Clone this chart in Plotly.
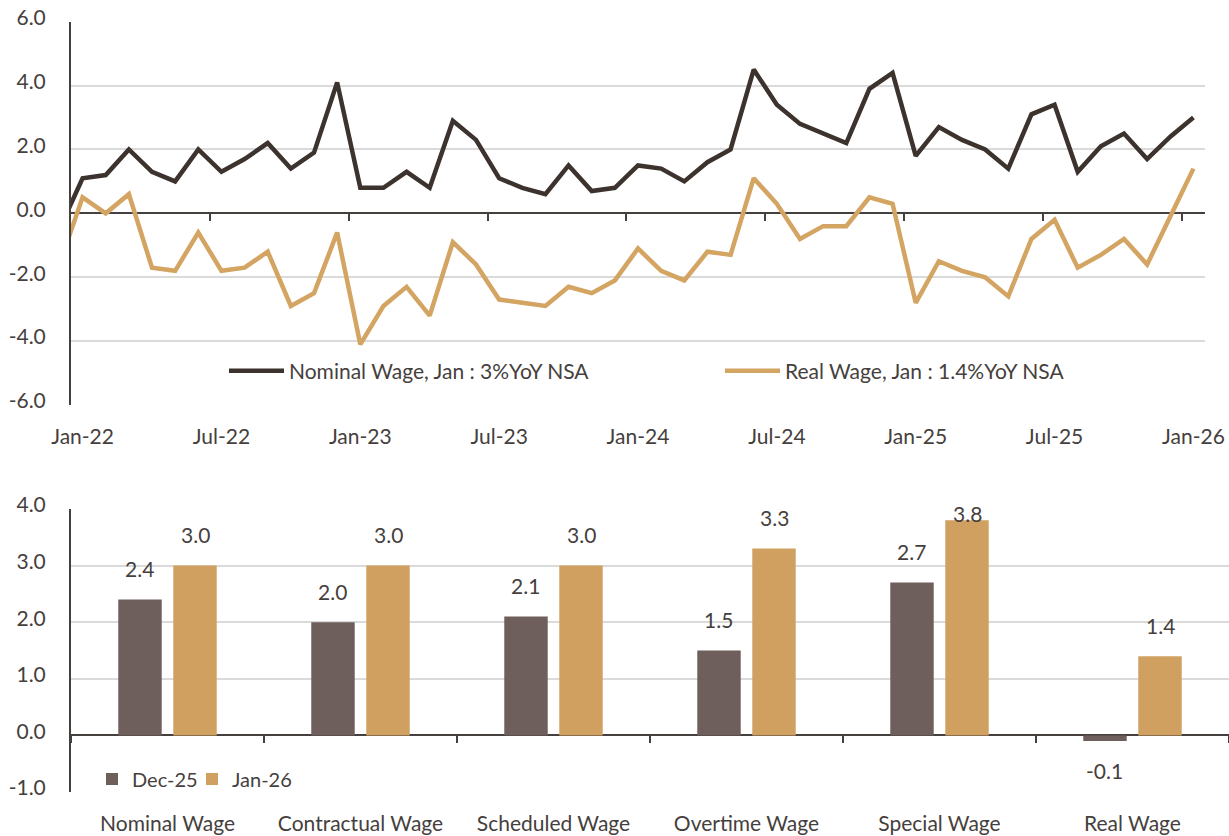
import plotly.graph_objects as go

# ---------------- data ----------------
# monthly index: -1 = Dec-21 (partially visible), 0 = Jan-22 ... 48 = Jan-26
month_index = list(range(-1, 49))
nominal_wage = [-0.5, 1.1, 1.2, 2.0, 1.3, 1.0, 2.0, 1.3, 1.7, 2.2, 1.4, 1.9, 4.1,
                0.8, 0.8, 1.3, 0.8, 2.9, 2.3, 1.1, 0.8, 0.6, 1.5, 0.7, 0.8,
                1.5, 1.4, 1.0, 1.6, 2.0, 4.5, 3.4, 2.8, 2.5, 2.2, 3.9, 4.4,
                1.8, 2.7, 2.3, 2.0, 1.4, 3.1, 3.4, 1.3, 2.1, 2.5, 1.7, 2.4, 3.0]
real_wage = [-1.6, 0.5, 0.0, 0.6, -1.7, -1.8, -0.6, -1.8, -1.7, -1.2, -2.9, -2.5, -0.6,
             -4.1, -2.9, -2.3, -3.2, -0.9, -1.6, -2.7, -2.8, -2.9, -2.3, -2.5, -2.1,
             -1.1, -1.8, -2.1, -1.2, -1.3, 1.1, 0.3, -0.8, -0.4, -0.4, 0.5, 0.3,
             -2.8, -1.5, -1.8, -2.0, -2.6, -0.8, -0.2, -1.7, -1.3, -0.8, -1.6, -0.1, 1.4]
line_names = ["Nominal Wage, Jan : 3%YoY NSA", "Real Wage, Jan : 1.4%YoY NSA"]

x_tick_vals = [0, 6, 12, 18, 24, 30, 36, 42, 48]
x_tick_labels = ["Jan-22", "Jul-22", "Jan-23", "Jul-23", "Jan-24", "Jul-24",
                 "Jan-25", "Jul-25", "Jan-26"]
top_y_vals = [-6, -4, -2, 0, 2, 4, 6]
top_y_labels = ["-6.0", "-4.0", "-2.0", "0.0", "2.0", "4.0", "6.0"]

categories = ["Nominal Wage", "Contractual Wage", "Scheduled Wage",
              "Overtime Wage", "Special Wage", "Real Wage"]
dec25 = [2.4, 2.0, 2.1, 1.5, 2.7, -0.1]
jan26 = [3.0, 3.0, 3.0, 3.3, 3.8, 1.4]
bar_names = ["Dec-25", "Jan-26"]
bot_y_vals = [-1, 0, 1, 2, 3, 4]
bot_y_labels = ["-1.0", "0.0", "1.0", "2.0", "3.0", "4.0"]

# ---------------- style ----------------
W, H = 1229, 836
FONT = "Lato"
FS = 21
TXT = "#45403d"
AXIS = "#45403d"
GRID = "#dadada"
C_NOM = "#3d332e"
C_REAL = "#d3a462"
C_DEC = "#6e5f5c"
C_JAN = "#d0a060"

top_px = dict(l=71, r=1205, t=21.7, b=405)
bot_px = dict(l=71, r=1229, t=509, b=792)
top_dx = [top_px["l"] / W, top_px["r"] / W]
top_dy = [1 - top_px["b"] / H, 1 - top_px["t"] / H]
bot_dx = [bot_px["l"] / W, bot_px["r"] / W]
bot_dy = [1 - bot_px["b"] / H, 1 - bot_px["t"] / H]
top_yr = [-6, 6]
bot_yr = [-1, 4]
top_zero = top_dy[0] + (0 - top_yr[0]) / (top_yr[1] - top_yr[0]) * (top_dy[1] - top_dy[0])
bot_zero = bot_dy[0] + (0 - bot_yr[0]) / (bot_yr[1] - bot_yr[0]) * (bot_dy[1] - bot_dy[0])

BARGAP = 0.43
BARGROUPGAP = 0.21

fig = go.Figure()

# ---------------- top: lines ----------------
fig.add_trace(go.Scatter(x=month_index, y=nominal_wage, mode="lines", name=line_names[0],
                         line=dict(color=C_NOM, width=4.5), xaxis="x", yaxis="y",
                         legend="legend"))
fig.add_trace(go.Scatter(x=month_index, y=real_wage, mode="lines", name=line_names[1],
                         line=dict(color=C_REAL, width=4.5), xaxis="x", yaxis="y",
                         legend="legend"))
# helper trace so the tick axis on the zero line is drawn
fig.add_trace(go.Scatter(x=[None], y=[None], xaxis="x3", yaxis="y", showlegend=False,
                         hoverinfo="skip"))

# ---------------- bottom: bars ----------------
fig.add_trace(go.Bar(x=categories, y=dec25, name=bar_names[0], marker_color=C_DEC,
                     marker_line_width=0, xaxis="x2", yaxis="y2", legend="legend2",
                     legendwidth=55))
fig.add_trace(go.Bar(x=categories, y=jan26, name=bar_names[1], marker_color=C_JAN,
                     marker_line_width=0, xaxis="x2", yaxis="y2", legend="legend2",
                     legendwidth=90))
fig.add_trace(go.Scatter(x=categories, y=[None] * len(categories), mode="markers",
                         xaxis="x4", yaxis="y2", showlegend=False, hoverinfo="skip"))

# bar value labels
cat_w = (bot_px["r"] - bot_px["l"]) / len(categories)
slot = cat_w * (1 - BARGAP) / 2
px_per_unit = (bot_px["b"] - bot_px["t"]) / (bot_yr[1] - bot_yr[0])
annotations = []
for series, sign in ((dec25, -1), (jan26, 1)):
    for cat, v in zip(categories, series):
        if v >= 0:
            room = (bot_yr[1] - v) * px_per_unit - 4
            ys = min(31, room)
        else:
            ys = -29
        annotations.append(dict(x=cat, y=v, xref="x2", yref="y2", text=f"{v:.1f}",
                                showarrow=False, xshift=sign * slot / 2, yshift=ys,
                                font=dict(family=FONT, size=FS, color=TXT),
                                xanchor="center", yanchor="middle"))

tick_font = dict(family=FONT, size=FS, color=TXT)

fig.update_layout(
    width=W, height=H,
    margin=dict(l=0, r=0, t=0, b=0, autoexpand=False),
    paper_bgcolor="white", plot_bgcolor="white",
    font=dict(family=FONT, size=FS, color=TXT),
    hovermode=False,
    barmode="group", bargap=BARGAP, bargroupgap=BARGROUPGAP,
    xaxis=dict(domain=top_dx, anchor="y", range=[-0.5, 48.5], tickmode="array",
               tickvals=x_tick_vals, ticktext=x_tick_labels, ticks="outside",
               ticklen=13, tickcolor="rgba(0,0,0,0)", showgrid=False, zeroline=False,
               showline=False, tickfont=tick_font),
    xaxis3=dict(overlaying="x", anchor="free", position=top_zero, range=[-0.5, 48.5],
                tickmode="array", tickvals=[v - 0.5 for v in x_tick_vals[1:]],
                showticklabels=False, ticks="outside", ticklen=7, tickwidth=2,
                tickcolor=AXIS, showgrid=False, zeroline=False, showline=False),
    yaxis=dict(domain=top_dy, anchor="x", range=top_yr, tickmode="array",
               tickvals=top_y_vals, ticktext=top_y_labels, ticks="outside",
               ticklen=19, tickcolor="rgba(0,0,0,0)", showgrid=True, gridcolor=GRID,
               gridwidth=1.6, zeroline=True, zerolinecolor=AXIS, zerolinewidth=1.6,
               showline=True, linecolor=AXIS, linewidth=2, tickfont=tick_font,
               ticklabelshift=-4),
    xaxis2=dict(domain=bot_dx, anchor="y2", type="category", categoryorder="array",
                categoryarray=categories, range=[-0.5, len(categories) - 0.5],
                ticks="outside", ticklen=13, tickcolor="rgba(0,0,0,0)",
                showgrid=False, zeroline=False, showline=False, tickfont=tick_font),
    xaxis4=dict(overlaying="x2", anchor="free", position=bot_zero, type="category",
                categoryorder="array", categoryarray=categories,
                range=[-0.5, len(categories) - 0.5], tickson="boundaries",
                showticklabels=False, ticks="outside", ticklen=7, tickwidth=2,
                tickcolor=AXIS, showgrid=False, zeroline=False, showline=False),
    yaxis2=dict(domain=bot_dy, anchor="x2", range=bot_yr, tickmode="array",
                tickvals=bot_y_vals, ticktext=bot_y_labels, ticks="outside",
                ticklen=19, tickcolor="rgba(0,0,0,0)", showgrid=True, gridcolor=GRID,
                gridwidth=1.6, zeroline=True, zerolinecolor=AXIS, zerolinewidth=1.6,
                showline=True, linecolor=AXIS, linewidth=2, tickfont=tick_font,
                ticklabelshift=-4),
    legend=dict(orientation="h", x=(234 - 10) / W, y=1 - 371 / H, xanchor="left",
                yanchor="middle", bgcolor="rgba(0,0,0,0)", font=tick_font,
                entrywidth=426, entrywidthmode="pixels", itemwidth=55,
                traceorder="normal"),
    legend2=dict(orientation="h", x=(93 - 1) / W, y=1 - 779 / H, xanchor="left",
                 yanchor="middle", bgcolor="rgba(0,0,0,0)",
                 font=dict(family=FONT, size=20, color=TXT),
                 entrywidthmode="pixels", traceorder="normal"),
    annotations=annotations,
)

fig.write_html("out.html",
               config={"displayModeBar": False},
               post_script="document.body.style.margin='0px';"
                           "document.body.style.overflow='hidden';")
